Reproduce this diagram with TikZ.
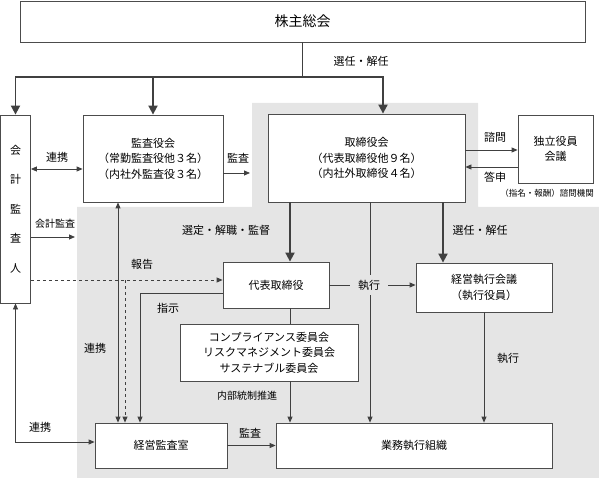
\documentclass[tikz,border=0pt]{standalone}
\usepackage{fontspec}
\newfontfamily\cjk{Noto Sans CJK JP}
\usepackage{tikz}
\usetikzlibrary{arrows.meta}
\usetikzlibrary{calc}

\tikzset{
	box/.style={draw=black!70, fill=white, line width=0.8pt, align=center, inner sep=0pt, font=\cjk\fontsize{11}{15.5}\selectfont},
	lbl/.style={font=\cjk\fontsize{11}{13}\selectfont, inner sep=1pt},
	small/.style={font=\cjk\fontsize{10}{12}\selectfont, inner sep=1pt},
	big/.style={line width=1.8pt, draw=black!75, -{Triangle[length=9pt,width=9pt]}},
	link/.style={line width=0.8pt, draw=black!75, -{Triangle[length=6pt,width=5pt]}},
	both/.style={link, {Triangle[length=6pt,width=5pt]}-{Triangle[length=6pt,width=5pt]}},
}

\begin{document}
\begin{tikzpicture}[x=1pt,y=-1pt]
		\useasboundingbox (0,0) rectangle (599,478);
		% gray area (executive side)
		\fill[black!10] (252,103) -- (478,103) -- (478,207) -- (599,207) -- (599,478) -- (77,478) -- (77,207) -- (252,207) -- cycle;

		\node[box, minimum width=565pt, minimum height=41pt, font=\cjk\fontsize{14}{16}\selectfont] (soukai) at (302.5,21.5) {株主総会};
		\node[box, minimum width=30pt, minimum height=188pt, font=\cjk\fontsize{11}{29.5}\selectfont] (kaikei) at (15.5,209) {会\\計\\監\\査\\人};
		\node[box, minimum width=140pt, minimum height=87pt] (kansayaku) at (153,158.5) {監査役会\\（常勤監査役他３名）\\（内社外監査役３名）};
		\node[box, minimum width=197pt, minimum height=88pt] (torishimari) at (366.5,158) {取締役会\\（代表取締役他９名）\\（内社外取締役４名）};
		\node[box, minimum width=75pt, minimum height=68pt] (dokuritsu) at (555.5,149) {独立役員\\会議};
		\node[box, minimum width=106pt, minimum height=46pt] (daihyo) at (276,285) {代表取締役};
		\node[box, minimum width=136pt, minimum height=49pt] (keiei) at (484,287.5) {経営執行会議\\（執行役員）};
		\node[box, minimum width=178pt, minimum height=57pt] (iinkai) at (269,352.5) {コンプライアンス委員会\\リスクマネジメント委員会\\サステナブル委員会};
		\node[box, minimum width=132pt, minimum height=45pt] (kansashitsu) at (161,445.5) {経営監査室};
		\node[box, minimum width=276pt, minimum height=45pt] (gyomu) at (414,445.5) {業務執行組織};

		% shareholders
		\coordinate (bunki) at (soukai.south |- 0,77);
		\draw[big,-] (soukai.south) -- (bunki);
		\draw[big] (bunki) -| (kaikei.north);
		\draw[big] (bunki) -| (kansayaku.north);
		\draw[big] (bunki) -| ([xshift=16.5pt]torishimari.north);

		% audit side
		\coordinate (k-renkei) at ([yshift=-10.5pt]kansayaku.west);
		\draw[both] (kaikei.east |- k-renkei) -- (k-renkei);
		\coordinate (k-kansa) at (250,173);
		\draw[link] (kansayaku.east |- k-kansa) -- (k-kansa);
		\coordinate (k-kaikei) at (75,237);
		\draw[link] (kaikei.east |- k-kaikei) -- (k-kaikei);
		\coordinate (t-shimon) at ([yshift=8pt]torishimari.east);
		\draw[link] (t-shimon) -- (dokuritsu.west |- t-shimon);
		\coordinate (t-toshin) at ([yshift=-9pt]torishimari.east);
		\draw[link] (dokuritsu.west |- t-toshin) -- (t-toshin);

		% board to execution
		\coordinate (t-left) at ([xshift=14pt]daihyo.north);
		\draw[big] (torishimari.south -| t-left) -- (t-left);
		\coordinate (t-right) at ([xshift=-41pt]keiei.north);
		\draw[big] (torishimari.south -| t-right) -- (t-right);
		\coordinate (t-mid) at ([xshift=3.5pt]torishimari.south);
		\draw[link] (t-mid) -- (t-mid |- gyomu.north);
		\draw[link] (daihyo.east) -- (keiei.west |- daihyo.east);
		\draw[link,-] ([xshift=14pt]daihyo.south) -- ([xshift=14pt]daihyo.south |- iinkai.north);
		\coordinate (i-down) at ([xshift=21pt]iinkai.south);
		\draw[link] (i-down) -- (i-down |- gyomu.north);
		\draw[link] (keiei.south) -- (keiei.south |- gyomu.north);

		% internal audit
		\coordinate (s-renkei) at ([xshift=-43pt]kansashitsu.north);
		\draw[both] (s-renkei |- kansayaku.south) -- (s-renkei);
		\coordinate (d-hokoku) at ([yshift=5pt]daihyo.west);
		\draw[link,dashed] (kaikei.east |- d-hokoku) -- (d-hokoku);
		\coordinate (s-hokoku) at ([xshift=-36pt]kansashitsu.north);
		\draw[link,dashed] (s-hokoku |- d-hokoku) -- (s-hokoku);
		\draw[link] ([yshift=-8pt]daihyo.west) -| ([xshift=-21pt]kansashitsu.north);
		\draw[both] (kaikei.south) |- ([yshift=3.5pt]kansashitsu.west);
		\draw[link] (kansashitsu.east) -- (gyomu.west);

		% labels
		\node[lbl] (l-senin) at (361,61) {選任・解任};
		\node[lbl] (l-renkei1) at (57,157) {連携};
		\node[lbl] (l-kansa1) at (238,158) {監査};
		\node[lbl] (l-shimon) at (495,137) {諮問};
		\node[lbl] (l-toshin) at (495,177) {答申};
		\node[font=\cjk\fontsize{8.5}{10}\selectfont, inner sep=0pt] (l-kikan) at (547,193) {（指名・報酬）諮問機関};
		\node[small] (l-kaikei) at (55,224) {会計監査};
		\node[lbl] (l-sentei) at (226,230) {選定・解職・監督};
		\node[lbl] (l-senin2) at (480,230) {選任・解任};
		\node[lbl] (l-hokoku) at (142,264) {報告};
		\node[lbl, fill=black!10, inner xsep=8pt, inner ysep=5pt] (l-shikko1) at (369,285) {執行};
		\node[lbl] (l-shiji) at (168,308) {指示};
		\node[lbl] (l-renkei2) at (95,348) {連携};
		\node[lbl] (l-shikko2) at (508,358) {執行};
		\node[small] (l-naibu) at (247,396) {内部統制推進};
		\node[lbl] (l-renkei3) at (40,427) {連携};
		\node[lbl] (l-kansa2) at (250,433) {監査};
\end{tikzpicture}
\end{document}
